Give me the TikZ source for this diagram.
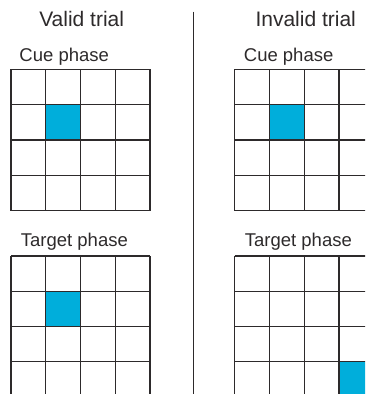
\documentclass[tikz,border=0pt]{standalone}
\usepackage{fontspec}
\setmainfont{Liberation Sans}

\definecolor{cueblue}{RGB}{0,174,219}
\definecolor{inkgrey}{RGB}{45,42,43}

\tikzset{
  gridline/.style={draw=inkgrey, line width=1.2pt},
  trialtitle/.style={inner sep=0pt, anchor=base, text=inkgrey, font=\fontsize{21}{24}\selectfont},
  phaselabel/.style={inner sep=0pt, anchor=base west, text=inkgrey, font=\fontsize{18.5}{22}\selectfont},
  litcell/.style={fill=cueblue}
}

\begin{document}
\begin{tikzpicture}[x=1pt, y=1pt]

\clip (0,0) rectangle (365,394);

% Titles
\node[trialtitle] (valid) at (81.7,367.3) {Valid trial};
\node[trialtitle] (invalid) at (305.7,367.3) {Invalid trial};

\node[phaselabel] (cueL) at (19.3,332.3) {Cue phase};
\node[phaselabel] (cueR) at (243.7,332.3) {Cue phase};
\node[phaselabel] (targetL) at (20.7,147.3) {Target phase};
\node[phaselabel] (targetR) at (244.7,147.3) {Target phase};

% Lit squares
\fill[litcell] (45.75,289.35) rectangle (80.5,254);
\fill[litcell] (269.45,289.35) rectangle (304.2,254);
\fill[litcell] (45.75,102.7) rectangle (80.5,67.4);
\fill[litcell] (338.95,32.1) rectangle (373.7,-3.2);

% Grids
\draw[gridline, shift={(11,183.3)}] (0,0) grid[xstep=34.75pt, ystep=35.35pt] (139,141.4);
\draw[gridline, shift={(234.7,183.3)}] (0,0) grid[xstep=34.75pt, ystep=35.35pt] (139,141.4);
\draw[gridline, shift={(11,-3.2)}] (0,0) grid[xstep=34.75pt, ystep=35.3pt] (139,141.2);
\draw[gridline, shift={(234.7,-3.2)}] (0,0) grid[xstep=34.75pt, ystep=35.3pt] (139,141.2);

% Divider
\draw[draw=inkgrey, line width=1.2pt] (193.7,382.3) -- (193.7,0);

\end{tikzpicture}
\end{document}
